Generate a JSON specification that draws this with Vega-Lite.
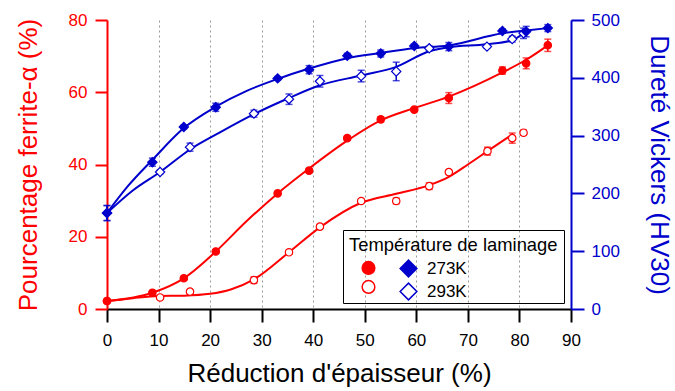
{
  "$schema": "https://vega.github.io/schema/vega-lite/v6.json",
  "width": 464,
  "height": 289,
  "autosize": {"type": "none"},
  "padding": {"left": 107, "top": 20, "right": 104, "bottom": 82},
  "background": "white",
  "config": {
    "font": "Liberation Sans",
    "view": {"stroke": null},
    "axis": {"labelFont": "Liberation Sans", "titleFont": "Liberation Sans", "labelFontSize": 17, "titleFontSize": 26, "titleFontWeight": "normal", "domainWidth": 2, "tickWidth": 2, "labelFlush": false},
    "axisBottom": {"domainColor": "black", "tickColor": "black", "labelColor": "black", "titleColor": "black", "tickSize": 13, "labelPadding": 10, "titlePadding": 12, "grid": true, "gridDash": [2, 3], "gridColor": "#999999", "gridWidth": 1},
    "axisLeft": {"domainColor": "#ff0000", "tickColor": "#ff0000", "labelColor": "#ff0000", "titleColor": "#ff0000", "tickSize": 12, "labelPadding": 8, "titlePadding": 27, "grid": false},
    "axisRight": {"domainColor": "#0000cc", "tickColor": "#0000cc", "labelColor": "#0000cc", "titleColor": "#0000cc", "tickSize": 13, "labelPadding": 7, "titlePadding": 26, "grid": false},
    "legend": {"labelFont": "Liberation Sans", "titleFont": "Liberation Sans", "labelFontSize": 17, "titleFontSize": 18.4, "titleFontWeight": "normal", "titleColor": "black", "labelColor": "black", "titleLimit": 400}
  },
  "datasets": {
    "ferrite": [
      {"temp": "293K", "x": 0, "y": 2.2, "err": 0.3},
      {"temp": "293K", "x": 10.3, "y": 3.2, "err": 0.5},
      {"temp": "293K", "x": 16.1, "y": 4.8, "err": 0.5},
      {"temp": "293K", "x": 28.5, "y": 8.0, "err": 0.9},
      {"temp": "293K", "x": 35.3, "y": 15.7, "err": 0.5},
      {"temp": "293K", "x": 41.3, "y": 22.8, "err": 0.5},
      {"temp": "293K", "x": 49.3, "y": 29.9, "err": 0.5},
      {"temp": "293K", "x": 56.1, "y": 29.9, "err": 0.8},
      {"temp": "293K", "x": 62.5, "y": 34.0, "err": 0.9},
      {"temp": "293K", "x": 66.3, "y": 37.9, "err": 0.5},
      {"temp": "293K", "x": 73.8, "y": 43.7, "err": 1.1},
      {"temp": "293K", "x": 78.6, "y": 47.3, "err": 1.4},
      {"temp": "293K", "x": 80.8, "y": 48.8, "err": 0.7},
      {"temp": "273K", "x": 0, "y": 2.2, "err": 0.3},
      {"temp": "273K", "x": 8.8, "y": 4.5, "err": 0.6},
      {"temp": "273K", "x": 14.9, "y": 8.5, "err": 0.5},
      {"temp": "273K", "x": 21.1, "y": 15.9, "err": 0.5},
      {"temp": "273K", "x": 33.1, "y": 32.0, "err": 0.5},
      {"temp": "273K", "x": 39.2, "y": 38.3, "err": 0.6},
      {"temp": "273K", "x": 46.6, "y": 47.3, "err": 0.6},
      {"temp": "273K", "x": 53.1, "y": 52.5, "err": 0.7},
      {"temp": "273K", "x": 59.6, "y": 55.2, "err": 0.5},
      {"temp": "273K", "x": 66.3, "y": 58.4, "err": 1.5},
      {"temp": "273K", "x": 76.7, "y": 66.0, "err": 1.0},
      {"temp": "273K", "x": 81.3, "y": 68.0, "err": 1.5},
      {"temp": "273K", "x": 85.5, "y": 73.0, "err": 1.7}
    ],
    "hardness": [
      {"temp": "293K", "x": 0, "y": 166, "err": 13},
      {"temp": "293K", "x": 10.3, "y": 237, "err": 3},
      {"temp": "293K", "x": 16.1, "y": 280, "err": 7},
      {"temp": "293K", "x": 28.5, "y": 338, "err": 6},
      {"temp": "293K", "x": 35.3, "y": 363, "err": 9},
      {"temp": "293K", "x": 41.3, "y": 394, "err": 10},
      {"temp": "293K", "x": 49.3, "y": 403, "err": 10},
      {"temp": "293K", "x": 56.1, "y": 411, "err": 16},
      {"temp": "293K", "x": 62.5, "y": 451, "err": 4},
      {"temp": "293K", "x": 73.7, "y": 454, "err": 3},
      {"temp": "293K", "x": 78.6, "y": 467, "err": 5},
      {"temp": "293K", "x": 80.8, "y": 477, "err": 9},
      {"temp": "273K", "x": 0, "y": 166, "err": 13},
      {"temp": "273K", "x": 8.8, "y": 254, "err": 7},
      {"temp": "273K", "x": 14.9, "y": 315, "err": 3},
      {"temp": "273K", "x": 21.1, "y": 349, "err": 7},
      {"temp": "273K", "x": 33.1, "y": 399, "err": 3},
      {"temp": "273K", "x": 39.2, "y": 414, "err": 7},
      {"temp": "273K", "x": 46.6, "y": 438, "err": 4.5},
      {"temp": "273K", "x": 53.1, "y": 442, "err": 6},
      {"temp": "273K", "x": 59.6, "y": 455, "err": 3},
      {"temp": "273K", "x": 66.3, "y": 454, "err": 7},
      {"temp": "273K", "x": 76.7, "y": 481, "err": 3.5},
      {"temp": "273K", "x": 81.3, "y": 480, "err": 9},
      {"temp": "273K", "x": 85.5, "y": 486, "err": 6}
    ],
    "ferriteFit": [
      {"temp": "273K", "x": 0, "y": 2.2},
      {"temp": "273K", "x": 8.8, "y": 4.5},
      {"temp": "273K", "x": 14.9, "y": 8.5},
      {"temp": "273K", "x": 21.1, "y": 15.9},
      {"temp": "273K", "x": 27, "y": 24.2},
      {"temp": "273K", "x": 33.1, "y": 32.0},
      {"temp": "273K", "x": 39.2, "y": 38.9},
      {"temp": "273K", "x": 46.6, "y": 46.6},
      {"temp": "273K", "x": 53.1, "y": 52.2},
      {"temp": "273K", "x": 59.6, "y": 55.6},
      {"temp": "273K", "x": 66.3, "y": 58.8},
      {"temp": "273K", "x": 76.7, "y": 65.5},
      {"temp": "273K", "x": 81.3, "y": 69.0},
      {"temp": "273K", "x": 85.5, "y": 73.0},
      {"temp": "293K", "x": 0, "y": 2.2},
      {"temp": "293K", "x": 5, "y": 3.0},
      {"temp": "293K", "x": 10, "y": 3.6},
      {"temp": "293K", "x": 15, "y": 3.7},
      {"temp": "293K", "x": 20, "y": 4.2},
      {"temp": "293K", "x": 24, "y": 5.4},
      {"temp": "293K", "x": 28.5, "y": 8.2},
      {"temp": "293K", "x": 35.3, "y": 15.7},
      {"temp": "293K", "x": 41.3, "y": 22.6},
      {"temp": "293K", "x": 49.3, "y": 29.4},
      {"temp": "293K", "x": 56.1, "y": 31.9},
      {"temp": "293K", "x": 62.5, "y": 34.3},
      {"temp": "293K", "x": 66.3, "y": 36.6},
      {"temp": "293K", "x": 70, "y": 40.0},
      {"temp": "293K", "x": 73.8, "y": 43.7},
      {"temp": "293K", "x": 78.6, "y": 48.3}
    ],
    "hardnessFit": [
      {"temp": "273K", "x": 0, "y": 166},
      {"temp": "273K", "x": 4, "y": 212},
      {"temp": "273K", "x": 8.8, "y": 258},
      {"temp": "273K", "x": 14.9, "y": 313},
      {"temp": "273K", "x": 21.1, "y": 350},
      {"temp": "273K", "x": 27, "y": 377},
      {"temp": "273K", "x": 33.1, "y": 398},
      {"temp": "273K", "x": 39.2, "y": 416},
      {"temp": "273K", "x": 46.6, "y": 434},
      {"temp": "273K", "x": 53.1, "y": 443},
      {"temp": "273K", "x": 59.6, "y": 451},
      {"temp": "273K", "x": 66.3, "y": 456},
      {"temp": "273K", "x": 76.7, "y": 477},
      {"temp": "273K", "x": 81.3, "y": 482},
      {"temp": "273K", "x": 85.5, "y": 486},
      {"temp": "293K", "x": 0, "y": 166},
      {"temp": "293K", "x": 5, "y": 205},
      {"temp": "293K", "x": 10.3, "y": 237},
      {"temp": "293K", "x": 16.1, "y": 276},
      {"temp": "293K", "x": 22, "y": 306},
      {"temp": "293K", "x": 28.5, "y": 337},
      {"temp": "293K", "x": 35.3, "y": 365},
      {"temp": "293K", "x": 41.3, "y": 387},
      {"temp": "293K", "x": 49.3, "y": 404},
      {"temp": "293K", "x": 56.1, "y": 419},
      {"temp": "293K", "x": 62.5, "y": 446},
      {"temp": "293K", "x": 66.3, "y": 453},
      {"temp": "293K", "x": 73.7, "y": 458},
      {"temp": "293K", "x": 78.6, "y": 465},
      {"temp": "293K", "x": 80.8, "y": 477}
    ]
  },
  "layer": [
    {
      "layer": [
        {
          "data": {"name": "ferriteFit"},
          "mark": {"type": "line", "color": "#ff0000", "strokeWidth": 2, "interpolate": "monotone"},
          "encoding": {
            "x": {"field": "x", "type": "quantitative", "scale": {"domain": [0, 90], "nice": false}, "title": "Réduction d'épaisseur (%)", "axis": {"values": [0, 10, 20, 30, 40, 50, 60, 70, 80, 90]}},
            "y": {"field": "y", "type": "quantitative", "scale": {"domain": [0, 80], "nice": false}, "title": "Pourcentage ferrite-α (%)", "axis": {"values": [0, 20, 40, 60, 80], "grid": false}},
            "detail": {"field": "temp"}
          }
        },
        {
          "data": {"name": "ferrite"},
          "mark": {"type": "errorbar", "color": "#ff0000", "thickness": 1.5, "ticks": {"size": 7, "thickness": 1.5}},
          "encoding": {
            "x": {"field": "x", "type": "quantitative", "title": "Réduction d'épaisseur (%)"},
            "y": {"field": "y", "type": "quantitative", "title": "Pourcentage ferrite-α (%)"},
            "yError": {"field": "err"},
            "detail": {"field": "temp"}
          }
        },
        {
          "data": {"name": "ferrite"},
          "mark": {"type": "point", "shape": "circle", "size": 55, "filled": true, "stroke": "#ff0000", "strokeWidth": 1.2, "opacity": 1},
          "encoding": {
            "x": {"field": "x", "type": "quantitative", "title": "Réduction d'épaisseur (%)"},
            "y": {"field": "y", "type": "quantitative", "title": "Pourcentage ferrite-α (%)"},
            "fill": {
              "field": "temp", "type": "nominal",
              "scale": {"domain": ["273K", "293K"], "range": ["#ff0000", "#ffffff"]},
              "legend": {"title": "Température de laminage", "orient": "none", "legendX": 236, "legendY": 210, "padding": 6, "strokeColor": "black", "symbolType": "circle", "symbolSize": 160, "symbolStrokeColor": "#ff0000", "symbolStrokeWidth": 1.5, "symbolOffset": 11, "labelOpacity": 0, "rowPadding": 0, "titlePadding": 5, "labelOffset": 10, "encode": {"legend": {"update": {"strokeWidth": {"value": 2}}}}}
            }
          }
        }
      ]
    },
    {
      "layer": [
        {
          "data": {"name": "hardnessFit"},
          "mark": {"type": "line", "color": "#0000cc", "strokeWidth": 2, "interpolate": "monotone"},
          "encoding": {
            "x": {"field": "x", "type": "quantitative", "title": "Réduction d'épaisseur (%)"},
            "y": {"field": "y", "type": "quantitative", "scale": {"domain": [0, 500], "nice": false}, "title": "Dureté Vickers (HV30)", "axis": {"orient": "right", "values": [0, 100, 200, 300, 400, 500], "grid": false}},
            "detail": {"field": "temp"}
          }
        },
        {
          "data": {"name": "hardness"},
          "mark": {"type": "errorbar", "color": "#0000cc", "thickness": 1.5, "ticks": {"size": 7, "thickness": 1.5}},
          "encoding": {
            "x": {"field": "x", "type": "quantitative", "title": "Réduction d'épaisseur (%)"},
            "y": {"field": "y", "type": "quantitative", "title": "Dureté Vickers (HV30)", "axis": {"orient": "right", "grid": false}},
            "yError": {"field": "err"},
            "detail": {"field": "temp"}
          }
        },
        {
          "data": {"name": "hardness"},
          "mark": {"type": "point", "shape": "diamond", "size": 85, "filled": true, "stroke": "#0000cc", "strokeWidth": 1.2, "opacity": 1},
          "encoding": {
            "x": {"field": "x", "type": "quantitative", "title": "Réduction d'épaisseur (%)"},
            "y": {"field": "y", "type": "quantitative", "title": "Dureté Vickers (HV30)", "axis": {"orient": "right", "grid": false}},
            "fill": {
              "field": "temp", "type": "nominal",
              "scale": {"domain": ["273K", "293K"], "range": ["#0000cc", "#ffffff"]},
              "legend": {"title": null, "orient": "none", "legendX": 286, "legendY": 233, "padding": 6, "symbolType": "diamond", "symbolSize": 280, "symbolStrokeColor": "#0000cc", "symbolStrokeWidth": 1.5, "symbolOffset": 0, "rowPadding": 0, "labelOffset": 9}
            }
          }
        }
      ]
    }
  ],
  "resolve": {"scale": {"y": "independent", "fill": "independent"}}
}
